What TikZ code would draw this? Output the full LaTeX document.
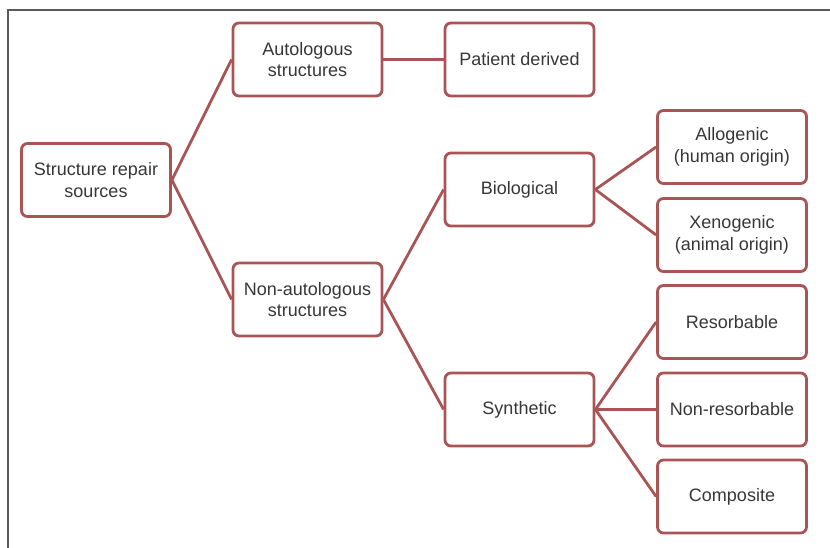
\documentclass[tikz,border=0pt]{standalone}
\usepackage{fontspec}
\setmainfont{Liberation Sans}
\definecolor{boxred}{RGB}{170,85,85}
\definecolor{txtgray}{RGB}{55,55,55}
\definecolor{framegray}{RGB}{90,90,90}
\begin{document}
\begin{tikzpicture}[x=1pt,y=-1pt,
  bx/.style={draw=boxred, line width=2.8pt, rounded corners=6pt, fill=white,
    minimum width=149pt, minimum height=73pt, align=center, text=txtgray,
    font=\fontsize{18}{21.5}\selectfont, inner sep=2pt},
  link/.style={draw=boxred, line width=2.8pt}]
\useasboundingbox (0,0) rectangle (830,548);
\fill[white] (0,0) rectangle (830,548);
\draw[framegray, line width=1.6pt] (8,548) -- (8,10) -- (830,10);
\node[bx] (root) at (96,180) {Structure repair\\sources};
\node[bx] (auto) at (307.5,59.5) {Autologous\\structures};
\node[bx] (pat) at (519.5,59.5) {Patient derived};
\node[bx] (non) at (307.5,299.5) {Non-autologous\\structures};
\node[bx] (bio) at (519.5,189.5) {Biological};
\node[bx] (syn) at (519.5,409.5) {Synthetic};
\node[bx] (allo) at (732,147) {Allogenic\\(human origin)};
\node[bx] (xeno) at (732,235) {Xenogenic\\(animal origin)};
\node[bx] (res) at (732,322) {Resorbable};
\node[bx] (nonres) at (732,409.5) {Non-resorbable};
\node[bx] (comp) at (732,496.5) {Composite};
\draw[link] (root.east) -- (auto.west);
\draw[link] (root.east) -- (non.west);
\draw[link] (auto.east) -- (pat.west);
\draw[link] (non.east) -- (bio.west);
\draw[link] (non.east) -- (syn.west);
\draw[link] (bio.east) -- (allo.west);
\draw[link] (bio.east) -- (xeno.west);
\draw[link] (syn.east) -- (res.west);
\draw[link] (syn.east) -- (nonres.west);
\draw[link] (syn.east) -- (comp.west);
\end{tikzpicture}
\end{document}
